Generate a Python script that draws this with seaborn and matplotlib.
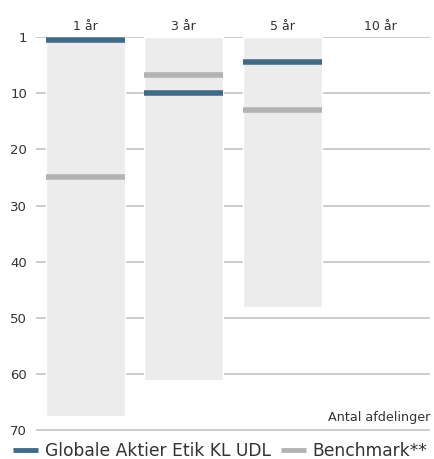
import matplotlib
matplotlib.use("Agg")
import matplotlib.pyplot as plt
import seaborn as sns
import pandas as pd
import numpy as np
from matplotlib.lines import Line2D

periods = ["1 år", "3 år", "5 år", "10 år"]
n_funds = [67.5, 61, 48, np.nan]
fund_rank = [0.5, 10, 4.4, np.nan]
bench_rank = [24.9, 6.8, 13, np.nan]
tick_vals = [0, 10, 20, 30, 40, 50, 60, 70]
tick_labels = ["1", "10", "20", "30", "40", "50", "60", "70"]

fund_name = "Globale Aktier Etik KL UDL"
bench_name = "Benchmark**"
fund_color = "#416a87"
bench_color = "#b3b3b3"
bar_color = "#ececec"
text_color = "#333333"

sns.set_theme(style="white")
plt.rcParams["font.family"] = ["DejaVu Sans"]

fig = plt.figure(figsize=(4.34, 4.59), dpi=100)
ax = fig.add_axes([36/434, 1 - 430.5/459, 394/434, 393.5/459])

df = pd.DataFrame({"period": periods, "n": n_funds})
sns.barplot(data=df, x="period", y="n", order=periods, color=bar_color,
            saturation=1, width=0.8, ax=ax, zorder=2)

for i, (f, b) in enumerate(zip(fund_rank, bench_rank)):
    if not np.isnan(b):
        ax.hlines(b, i - 0.4, i + 0.4, color=bench_color, linewidth=4, zorder=3)
    if not np.isnan(f):
        ax.hlines(f, i - 0.4, i + 0.4, color=fund_color, linewidth=4, zorder=4)

ax.set_ylim(70, 0)
ax.set_xlim(-0.5, 3.5)
ax.set_yticks(tick_vals)
ax.set_yticklabels(tick_labels)
ax.yaxis.grid(True, color="#c4c4c4", linewidth=1.2, zorder=0)
ax.set_axisbelow(True)
for s in ax.spines.values():
    s.set_visible(False)
ax.xaxis.tick_top()
ax.tick_params(axis="x", length=0, pad=3, labelsize=9, labelcolor=text_color)
ax.tick_params(axis="y", length=0, pad=6.5, labelsize=9.5, labelcolor=text_color)
ax.set_xlabel("")
ax.set_ylabel("")

ax.text(3.5, 67.7, "Antal afdelinger", ha="right", va="center",
        fontsize=9.2, color=text_color)

handles = [Line2D([0], [0], color=fund_color, lw=3.5, solid_capstyle="butt"),
           Line2D([0], [0], color=bench_color, lw=3.5, solid_capstyle="butt")]
fig.legend(handles, [fund_name, bench_name], loc="center left",
           bbox_to_anchor=(13/434, 1 - 451/459), ncol=2, frameon=False,
           fontsize=12.3, handlelength=1.45, handletextpad=0.4, columnspacing=0.6,
           borderaxespad=0, borderpad=0, labelcolor=text_color)

fig.savefig("out.png", dpi=100)
